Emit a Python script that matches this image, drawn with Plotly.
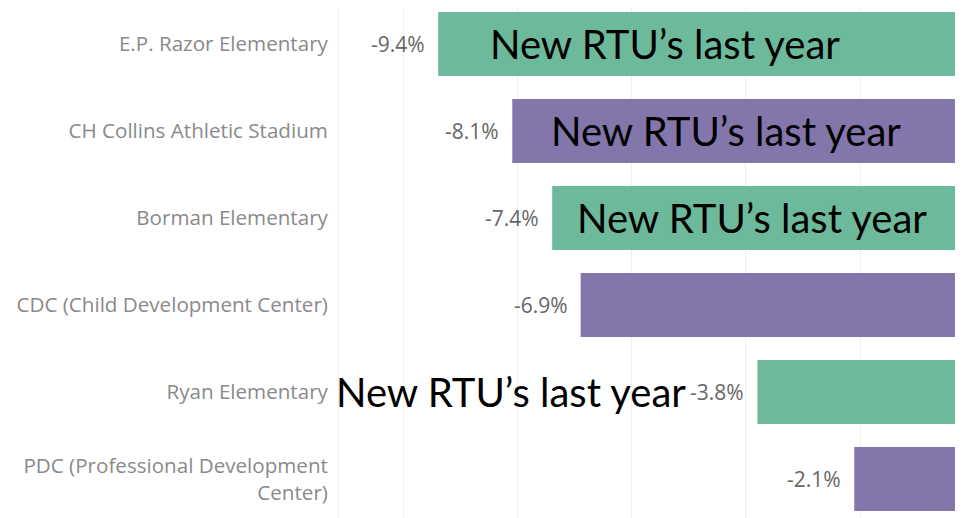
import plotly.graph_objects as go

categories = [
    "E.P. Razor Elementary",
    "CH Collins Athletic Stadium",
    "Borman Elementary",
    "CDC (Child Development Center)",
    "Ryan Elementary",
    "PDC (Professional Development<br>Center)",
]
values = [-9.4, -8.1, -7.4, -6.9, -3.8, -2.1]
value_labels = ["-9.4%", "-8.1%", "-7.4%", "-6.9%", "-3.8%", "-2.1%"]
bar_colors = ["#6db99b", "#8276ab", "#6db99b", "#8276ab", "#6db99b", "#8276ab"]
note_text = "New RTU’s last year"
note_rows = [0, 1, 2, 4]
note_x = [0.2388, 0.3365, 0.378, -0.008]   # paper x of each note's left edge

W, H = 963, 518

fig = go.Figure()
fig.add_trace(go.Bar(
    y=categories, x=values, orientation="h",
    marker=dict(color=bar_colors, line=dict(width=0)),
    width=0.736, hoverinfo="skip",
))

for c, v, t in zip(categories, values, value_labels):
    fig.add_annotation(x=v, y=c, xref="x", yref="y", text=t, showarrow=False,
                       xanchor="right", xshift=-11,
                       font=dict(family="Open Sans", size=21, color="#666666"))

for r, px in zip(note_rows, note_x):
    fig.add_annotation(x=px, y=categories[r], xref="paper", yref="y",
                       text=note_text, showarrow=False, xanchor="left",
                       font=dict(family="Lato", size=40, color="#000000"))

fig.update_layout(
    width=W, height=H,
    margin=dict(l=331, r=8, t=0, b=8),
    plot_bgcolor="white", paper_bgcolor="white",
    showlegend=False,
    xaxis=dict(range=[-11.14, -0.193], dtick=2, tick0=0, showgrid=True,
               gridcolor="#efefef", gridwidth=1, zeroline=False,
               showticklabels=False, ticks=""),
    yaxis=dict(range=[5.448, -0.414], showgrid=False, zeroline=False,
               showline=True, linecolor="#efefef", linewidth=1,
               ticks="outside", ticklen=6, tickcolor="rgba(0,0,0,0)",
               tickfont=dict(family="Open Sans", size=20.6, color="#8a8a8a")),
)

fig.write_html("out.html")
